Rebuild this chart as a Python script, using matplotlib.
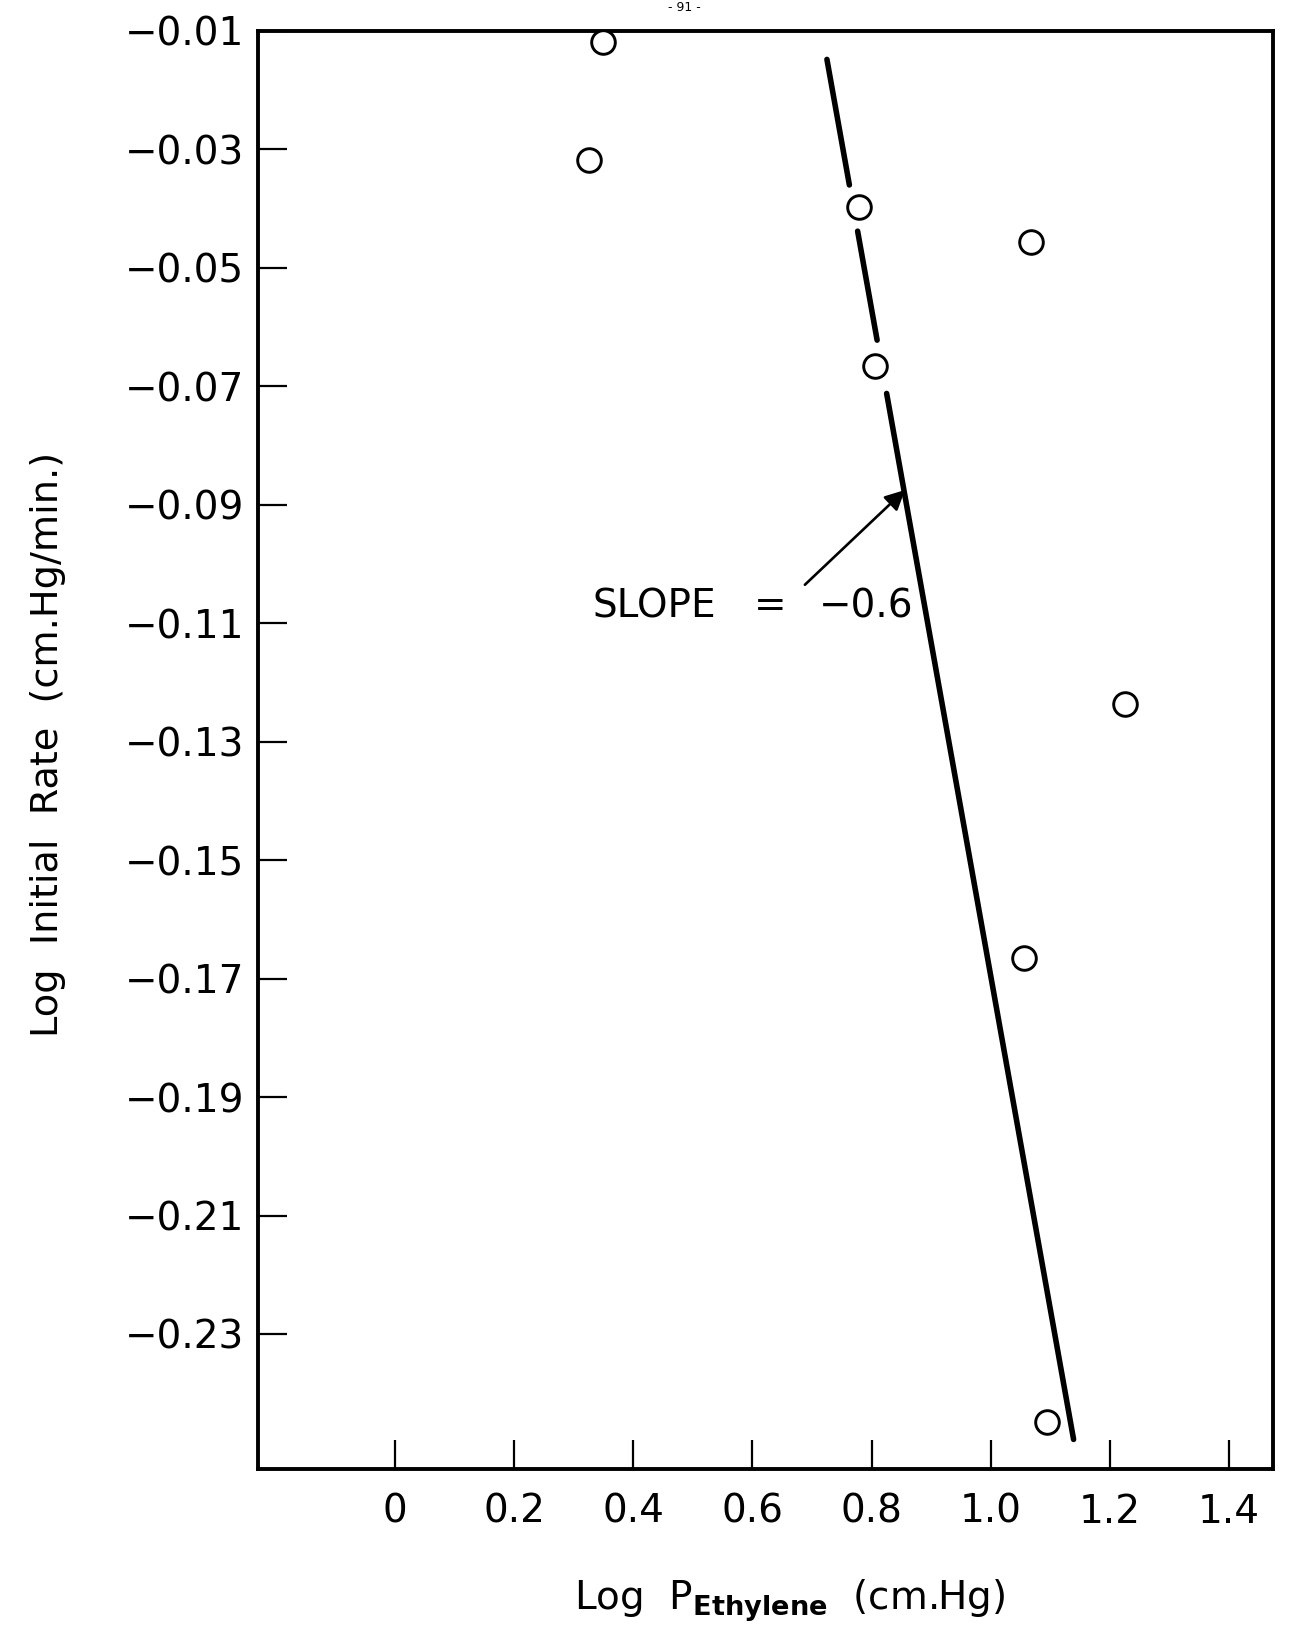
import numpy as np
import matplotlib.pyplot as plt

# ---- data ----
log_p = [0.349, 0.326, 0.779, 1.067, 0.805, 1.225, 1.056, 1.094]
log_rate = [-0.0119, -0.0317, -0.0397, -0.0457, -0.0665, -0.1237, -0.1666, -0.2449]

# hand-drawn fit line (end points) and the breaks left around two circles
fit_x = [0.725, 1.139]
fit_y = [-0.0148, -0.2478]
fit_breaks = [(-0.0360, -0.0438), (-0.0622, -0.0712)]

x_ticks = [0, 0.2, 0.4, 0.6, 0.8, 1.0, 1.2, 1.4]
x_labels = ["0", "0.2", "0.4", "0.6", "0.8", "1.0", "1.2", "1.4"]
y_ticks = [-0.01, -0.03, -0.05, -0.07, -0.09, -0.11, -0.13, -0.15,
           -0.17, -0.19, -0.21, -0.23]
y_labels = ["\u22120.01", "\u22120.03", "\u22120.05", "\u22120.07", "\u22120.09",
            "\u22120.11", "\u22120.13", "\u22120.15", "\u22120.17", "\u22120.19",
            "\u22120.21", "\u22120.23"]

slope_text = "\u22120.6"

plt.rcParams['font.family'] = ['DejaVu Sans']
plt.rcParams['mathtext.fontset'] = 'dejavusans'

fig = plt.figure(figsize=(12.91, 16.39), dpi=100)
ax = fig.add_axes([0.1998, 0.1037, 0.7864, 0.8774])

ax.set_xlim(-0.23, 1.474)
ax.set_ylim(-0.2528, -0.0100)

# fit line, split into pieces
slope = (fit_y[1] - fit_y[0]) / (fit_x[1] - fit_x[0])
def x_at(y):
    return fit_x[0] + (y - fit_y[0]) / slope

pieces = []
start = fit_y[0]
for top, bottom in fit_breaks:
    pieces.append((start, top))
    start = bottom
pieces.append((start, fit_y[1]))
for ya, yb in pieces:
    ax.plot([x_at(ya), x_at(yb)], [ya, yb], color='black', lw=4.0,
            solid_capstyle='round', zorder=2)

# measured points
ax.plot(log_p, log_rate, 'o', ms=17, mfc='white', mec='black', mew=2.1,
        linestyle='none', zorder=3)

# slope annotation
ax.annotate("", xy=(0.856, -0.0875), xytext=(0.688, -0.1035),
            arrowprops=dict(arrowstyle='-|>', color='black', lw=1.9,
                            mutation_scale=30, shrinkA=0, shrinkB=0))
ax.text(0.332, -0.1071, "SLOPE", fontsize=28, ha='left', va='center')
ax.text(0.630, -0.1071, "=", fontsize=28, ha='center', va='center')
ax.text(0.712, -0.1071, slope_text, fontsize=28, ha='left', va='center')

# axes styling
for side in ['left', 'right', 'top', 'bottom']:
    ax.spines[side].set_linewidth(2.8)

ax.set_xticks(x_ticks)
ax.set_xticklabels(x_labels)
ax.set_yticks(y_ticks)
ax.set_yticklabels(y_labels)
ax.tick_params(axis='both', direction='in', length=21, width=1.6,
               labelsize=28, top=False, right=False)
ax.tick_params(axis='x', pad=17)
ax.tick_params(axis='y', pad=10)

fig.text(0.037, 0.546, "Log  Initial  Rate  (cm.Hg/min.)", rotation=90,
         fontsize=27.5, ha='center', va='center')
fig.text(0.612, 0.0235, r"Log  P$_{\mathbf{Ethylene}}$  (cm.Hg)",
         fontsize=28, ha='center', va='center')

# page number at the very top edge
fig.text(0.53, 0.9995, "- 91 -", fontsize=9, ha='center', va='top')

fig.savefig("out.png", dpi=100, facecolor='white')
